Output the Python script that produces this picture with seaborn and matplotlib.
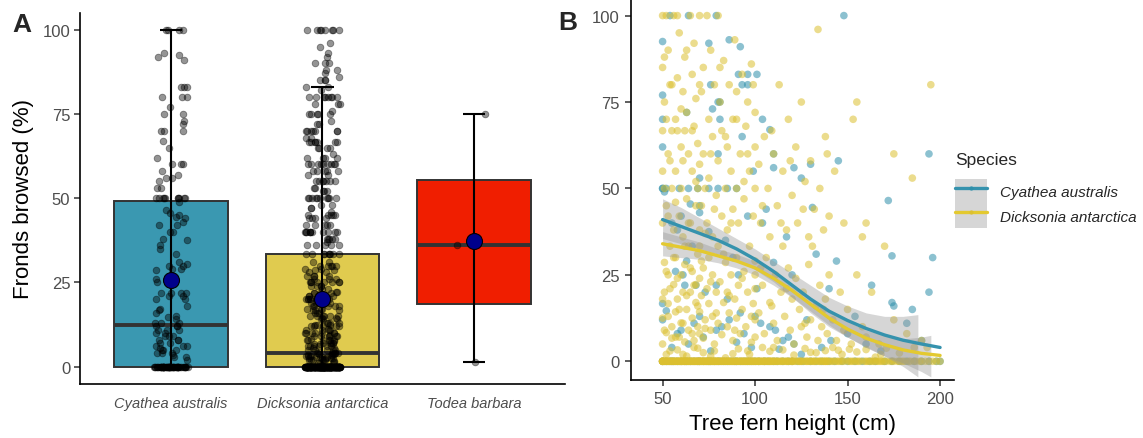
import numpy as np
import pandas as pd
import matplotlib
matplotlib.use("Agg")
import matplotlib.pyplot as plt
import seaborn as sns
from matplotlib import cbook
from matplotlib.lines import Line2D
from matplotlib.patches import Patch

# ---------------- data ----------------
species = ["Cyathea australis", "Dicksonia antarctica", "Todea barbara"]
box_colors = ["#3A98B1", "#E0CB4F", "#F01E00"]
teal = "#2E8FAA"
yellow = "#DCC030"

# heights (cm) of Cyathea ferns with 0 % fronds browsed
cyathea_zero_heights = [50, 52, 54, 56, 58, 60, 62, 63, 65, 67, 69, 70, 72, 74, 76, 78, 80, 81, 83, 85,
                        87, 89, 90, 92, 94, 96, 98, 100, 102, 105, 107, 110, 112, 115, 118, 120, 123, 126, 130, 133,
                        136, 140, 143, 147, 150, 154, 158, 162, 165, 170, 174, 178, 182, 186, 190, 194, 198, 200, 55, 75]
# (height cm, fronds browsed %) for Cyathea ferns with browsing > 0
cyathea_points = [
    (182, 11), (50, 12), (60, 9), (79, 9), (108, 10), (111, 9), (115, 6), (121, 5), (141, 6), (55, 4),
    (58, 8), (64, 5), (67, 11), (72, 7), (76, 3), (82, 10), (86, 12), (90, 5.5), (94, 8), (98, 4),
    (103, 11), (113, 3.5), (118, 7), (125, 2), (128, 12), (136, 4), (150, 8), (160, 5), (168, 3), (190, 6),
    (51, 49), (65, 45.5), (70, 43), (70, 45), (96, 42), (106, 44), (131, 44.5), (172, 46.5), (104, 40), (84, 35),
    (117, 36), (133, 31), (144, 29), (174, 30.5), (196, 30), (63, 29), (61, 25), (62, 22), (68, 22), (79, 22),
    (91, 25), (101, 21), (163, 22), (174, 17), (175, 16), (194, 20), (185, 15), (50, 16.7), (52, 14.6), (70, 13),
    (100, 13), (154, 13), (92, 14), (55, 40), (58, 38), (66, 33.3), (75, 37.5), (88, 30), (110, 28.6), (57, 26),
    (73, 20), (85, 18), (120, 25), (140, 21), (60, 42),
    (50, 50), (52, 50), (59, 50), (64, 50), (69, 50), (75, 50), (80, 50), (85, 50), (90, 50), (50, 50),
    (54, 100), (64, 100), (148, 100), (50, 92.5), (75, 92), (86, 93), (79, 100), (92, 91), (99, 55), (91, 83),
    (96, 83), (101, 83), (110, 56), (70, 53), (76, 80), (93, 80), (96, 80), (130, 57), (50, 77), (80, 75),
    (81, 75), (77, 73), (125, 53), (50, 70), (63, 72), (81, 70), (104, 70), (108, 67), (93, 65), (121, 56),
    (50, 62), (80, 60), (110, 60), (194, 60), (145, 58),
]

# heights (cm) of Dicksonia ferns with 0 % fronds browsed
dicksonia_zero_heights = [
    50, 50, 50, 50, 51, 51, 52, 52, 53, 53, 54, 54, 55, 55, 55, 56, 56, 57, 57, 58, 58, 59, 59, 60, 60,
    60, 61, 61, 62, 62, 63, 63, 64, 64, 65, 65, 65, 66, 66, 67, 67, 68, 68, 69, 69, 70, 70, 70, 71, 71,
    72, 72, 73, 73, 74, 74, 75, 75, 75, 76, 76, 77, 77, 78, 78, 79, 79, 50, 60, 70,
    80, 80, 81, 81, 82, 82, 83, 83, 84, 84, 85, 85, 86, 86, 87, 87, 88, 88, 89, 89, 90, 90, 91, 91, 92,
    92, 93, 93, 94, 94, 95, 95, 96, 96, 97, 97, 98, 98, 99, 99, 100, 100, 101, 101, 102, 102, 103, 103, 104,
    104, 105, 105, 106, 106, 107, 107, 108, 108, 109, 109,
    110, 110, 111, 112, 112, 113, 114, 115, 115, 116, 117, 118, 118, 119, 120, 120, 121, 122, 123, 124,
    125, 125, 126, 127, 128, 129, 130, 130, 131, 132, 133, 134, 135, 135, 136, 137, 138, 138, 139, 139,
    140, 141, 142, 143, 145, 146, 147, 148, 150, 151, 152, 154, 155, 156, 157, 159, 160, 161, 162, 163,
    165, 166, 167, 168, 169, 170, 171, 173, 174, 175, 177, 178, 180, 181, 183, 184, 186, 187, 189, 190,
    192, 194, 196, 198, 200,
    50, 51, 52, 53, 54, 56, 57, 58, 59, 61, 62, 63, 64, 66, 67, 68, 69, 71, 72, 73,
    74, 76, 77, 78, 79, 80, 82, 84, 86, 88, 90, 93, 95, 97, 99, 102, 105, 108, 111, 114,
    117, 120, 124, 128, 132, 137, 144, 153, 164, 179,
]
# (height cm, fronds browsed %) for Dicksonia ferns with browsing > 0
dicksonia_points = [
    (52, 2), (58, 3.3), (63, 1.5), (67, 4), (72, 2.5), (78, 3), (84, 1), (91, 3.6), (97, 2), (104, 4),
    (108, 2.9), (115, 3.3), (121, 1.8), (127, 3.7), (133, 2.5), (138, 3.1), (142, 4), (147, 2), (151, 3.5), (155, 2.7),
    (160, 3.4), (165, 1.2), (171, 3.8), (178, 2.4), (186, 4), (193, 4),
    (54, 3), (61, 2), (69, 3.8), (76, 1.5), (88, 2.2), (96, 3), (110, 4), (130, 2.6), (145, 3.2), (168, 2),
    (50, 5), (50, 12.5), (51, 20), (51, 28.6), (52, 8.3), (53, 16.7), (53, 25), (54, 33.3), (55, 6.7), (55, 10),
    (56, 22.2), (57, 14.3), (57, 30), (58, 18), (59, 7), (60, 25), (60, 11.1), (61, 20), (62, 5.6), (62, 28),
    (63, 15), (64, 9), (64, 33.3), (65, 20), (66, 12.5), (66, 26), (67, 6), (68, 17), (68, 22.2), (69, 10),
    (69, 31), (70, 14.3), (70, 24), (70, 8), (70, 33.3),
    (71, 19), (72, 6.7), (72, 27), (73, 12), (74, 21), (75, 16.7), (75, 30), (76, 9), (77, 25), (77, 13),
    (78, 5), (79, 20), (80, 33.3), (80, 11), (81, 23), (82, 7.7), (83, 17), (84, 28.6), (85, 10), (85, 20),
    (86, 14), (87, 25), (88, 6), (89, 18), (90, 30), (90, 12.5), (91, 22), (92, 8), (93, 15), (94, 26),
    (95, 10), (96, 20), (97, 33.3), (98, 5.5), (99, 16.7), (100, 25), (100, 12), (100, 21), (100, 7), (100, 29),
    (102, 14), (104, 22), (105, 8), (106, 30), (108, 17), (110, 11), (111, 25), (112, 6), (114, 20), (115, 33.3),
    (116, 13), (118, 27), (119, 9), (120, 18), (121, 5), (122, 24), (124, 15), (125, 10), (126, 20), (128, 7),
    (129, 28), (130, 12), (131, 33.3), (133, 16), (134, 6), (135, 22), (136, 10), (138, 18), (139, 8), (140, 25),
    (142, 12), (144, 6), (146, 20), (148, 9), (150, 15), (152, 5), (155, 25), (158, 10), (160, 7), (163, 20),
    (167, 5), (170, 33.3), (175, 12), (182, 8), (190, 6),
    (50, 18), (51, 9), (52, 26), (53, 13), (54, 21), (56, 30), (57, 7), (58, 24), (59, 15), (61, 11),
    (62, 33.3), (63, 19), (65, 27), (66, 8), (67, 22), (69, 16), (71, 29), (73, 9.5), (76, 23), (79, 14),
    (83, 31), (86, 19), (89, 9), (93, 24), (98, 13), (103, 27), (109, 16), (117, 21), (127, 11), (137, 15),
    (50, 100), (50, 66.7), (50, 40), (50, 85), (51, 50), (51, 75), (52, 100), (52, 45), (53, 90), (53, 60),
    (54, 58), (54, 80), (55, 66.7), (55, 50), (56, 100), (56, 38), (57, 70), (57, 55), (58, 82), (58, 66.7),
    (59, 42), (59, 95), (60, 50), (60, 62), (61, 78), (61, 36), (62, 66.7), (62, 88), (63, 47), (63, 72),
    (64, 60), (65, 100), (65, 40), (66, 83), (66, 55), (67, 68), (67, 92), (68, 45), (68, 76), (69, 50),
    (69, 63), (70, 100), (70, 38), (70, 80), (70, 57),
    (71, 45), (72, 85), (72, 60), (73, 50), (74, 100), (74, 40), (75, 70), (75, 53), (76, 90), (77, 36),
    (77, 65), (78, 80), (79, 48), (80, 100), (80, 58), (81, 75), (82, 42), (82, 66.7), (83, 87), (84, 50),
    (85, 62), (85, 38), (86, 80), (87, 55), (88, 44), (88, 70), (89, 93), (90, 50), (90, 78), (91, 40),
    (92, 60), (93, 83), (94, 47), (95, 68), (96, 60), (96, 75), (97, 55), (98, 86), (99, 42), (100, 62),
    (100, 50), (100, 72),
    (102, 57), (103, 40), (105, 65), (107, 50), (108, 36), (110, 60), (112, 45), (113, 80), (115, 55), (117, 38),
    (118, 70), (120, 48), (122, 62), (123, 40), (125, 75), (127, 52), (129, 36), (130, 58), (132, 44), (134, 96),
    (135, 50), (137, 38), (138, 65), (140, 42),
    (143, 55), (148, 40), (153, 70), (155, 75), (158, 36), (175, 60), (185, 53), (195, 80),
    (50, 55), (51, 88), (52, 70), (53, 42), (55, 80), (57, 46), (58, 100), (60, 73), (61, 58), (63, 90),
    (64, 40), (66, 66.7), (68, 52), (71, 78), (73, 37), (76, 60), (78, 44), (81, 85), (84, 65), (87, 40),
    (90, 70), (94, 52), (99, 80), (104, 45), (109, 66.7), (114, 40), (119, 58), (126, 44), (139, 60), (160, 40),
]

todea_browsed = [1.3, 36, 75]

# fitted browsing curves
fit_heights = [50, 60, 70, 80, 90, 100, 110, 120, 130, 140, 150, 160, 170, 180, 190, 200]
cyathea_fit = [41, 39, 37, 35, 32.5, 29.5, 26, 22, 18, 14.5, 11.8, 9.5, 7.6, 6.1, 5, 4]
dicksonia_fit = [34, 33, 32, 30.5, 29, 27, 24, 20.5, 16.5, 12.5, 9.3, 6.7, 4.8, 3.3, 2.3, 1.7]

cyathea_band_heights = [50, 60, 70, 80, 90, 100, 110, 120, 130, 140, 150, 160, 170, 180, 188]
cyathea_band_upper = [47, 44.5, 41.5, 38.5, 35.5, 32.5, 29, 25.5, 22, 18.5, 16, 14, 13, 13, 13.5]
cyathea_band_lower = [35.5, 34, 32.5, 31, 29.5, 26.5, 23, 18.5, 14, 10, 7, 4, 1.5, -1.5, -4.5]

dicksonia_band_heights = [50, 60, 70, 80, 90, 100, 110, 120, 130, 140, 150, 160, 170, 180, 190, 195]
dicksonia_band_upper = [37.5, 36, 34.5, 32.5, 31, 29, 26, 22.5, 18.5, 14.5, 11.5, 9, 7.5, 6.5, 7, 7.5]
dicksonia_band_lower = [30.5, 30, 29.5, 28.5, 27, 25, 22, 18.5, 14.5, 10.5, 7, 4.2, 1.5, -0.5, -3, -4.5]

# ---------------- tables ----------------
rows = []
for h in cyathea_zero_heights:
    rows.append((species[0], h, 0.0))
for h, y in cyathea_points:
    rows.append((species[0], h, y))
for h in dicksonia_zero_heights:
    rows.append((species[1], h, 0.0))
for h, y in dicksonia_points:
    rows.append((species[1], h, y))
df_b = pd.DataFrame(rows, columns=["species", "height", "browsed"])
df_a = pd.concat([df_b, pd.DataFrame({"species": species[2], "height": np.nan,
                                      "browsed": todea_browsed})], ignore_index=True)

# ---------------- style ----------------
sns.set_style("ticks")
plt.rcParams["font.family"] = ["Liberation Sans", "DejaVu Sans"]
np.random.seed(3)

tick_gray = "#4D4D4D"
fig = plt.figure(figsize=(11.43, 4.39), dpi=100)
axA = fig.add_axes([0.0700, 0.1241, 0.4243, 0.8444])
axB = fig.add_axes([0.5517, 0.1314, 0.2829, 0.8686])

# ---------------- panel A ----------------
sns.boxplot(data=df_a, x="species", y="browsed", order=species, hue="species", hue_order=species,
            palette=box_colors, saturation=1, legend=False, width=0.75, showfliers=False,
            showcaps=False, linecolor="#333333", linewidth=1.4,
            whiskerprops={"visible": False},
            medianprops={"linewidth": 2.8, "color": "#333333"}, ax=axA)
sns.stripplot(data=df_a, x="species", y="browsed", order=species, color="black", alpha=0.42,
              size=4.8, jitter=0.115, linewidth=0.6, edgecolor="black", ax=axA, zorder=3)
for i, sp in enumerate(species):
    vals = df_a.loc[df_a["species"] == sp, "browsed"].to_numpy()
    st = cbook.boxplot_stats(vals, whis=1.5)[0]
    axA.vlines(i, st["whislo"], st["whishi"], color="black", lw=1.5, zorder=4)
    axA.hlines([st["whislo"], st["whishi"]], i - 0.075, i + 0.075, color="black", lw=1.5, zorder=4)
sns.pointplot(data=df_a, x="species", y="browsed", order=species, estimator="mean", errorbar=None,
              color="#00008B", markers="o", linestyle="none", markersize=11.5,
              markeredgecolor="black", markeredgewidth=0.8, ax=axA, zorder=5)

axA.set_xlim(-0.6, 2.6)
axA.set_ylim(-5, 105)
axA.set_yticks([0, 25, 50, 75, 100])
axA.set_xlabel("")
axA.set_ylabel("Fronds browsed (%)", fontsize=16, color="black", labelpad=6)
axA.tick_params(axis="y", labelsize=12, labelcolor=tick_gray, color="#333333", length=4, width=1.1, pad=3)
axA.tick_params(axis="x", labelsize=10.5, labelcolor=tick_gray, length=0, pad=9)
for lab in axA.get_xticklabels():
    lab.set_fontstyle("italic")

# ---------------- panel B ----------------
sns.scatterplot(data=df_b, x="height", y="browsed", hue="species", hue_order=species[:2],
                palette=[teal, yellow], alpha=0.55, s=30, linewidth=0, legend=False, ax=axB)
axB.fill_between(cyathea_band_heights, cyathea_band_lower, cyathea_band_upper,
                 color="#999999", alpha=0.4, lw=0, zorder=3)
axB.fill_between(dicksonia_band_heights, dicksonia_band_lower, dicksonia_band_upper,
                 color="#999999", alpha=0.4, lw=0, zorder=3)
sns.lineplot(x=fit_heights, y=cyathea_fit, color="#3592AD", lw=2.4, ax=axB, zorder=4)
sns.lineplot(x=fit_heights, y=dicksonia_fit, color="#E3C930", lw=2.4, ax=axB, zorder=4)

axB.set_xlim(32.7, 207.5)
axB.set_ylim(-5.5, 104.8)
axB.set_xticks([50, 100, 150, 200])
axB.set_yticks([0, 25, 50, 75, 100])
axB.set_xlabel("Tree fern height (cm)", fontsize=16, color="black", labelpad=5)
axB.set_ylabel("")
axB.tick_params(axis="both", labelsize=12, labelcolor=tick_gray, color="#333333", length=4, width=1.1, pad=4)

for ax in (axA, axB):
    sns.despine(ax=ax)
    for s in ("left", "bottom"):
        ax.spines[s].set_linewidth(1.2)
        ax.spines[s].set_color("black")

# ---------------- panel letters & legend ----------------
fig.text(22 / 1143, 1 - 25 / 439, "A", fontsize=19, fontweight="bold", ha="center", va="center")
fig.text(568 / 1143, 1 - 23 / 439, "B", fontsize=19, fontweight="bold", ha="center", va="center")

fig.text(955 / 1143, 1 - 161 / 439, "Species", fontsize=12.5, ha="left", va="center")
handles = [
    (Patch(facecolor="#D6D6D6", edgecolor="none"),
     Line2D([], [], color="#3592AD", lw=2.4, marker="o", markersize=3, markerfacecolor=teal, markeredgewidth=0)),
    (Patch(facecolor="#D6D6D6", edgecolor="none"),
     Line2D([], [], color="#E3C930", lw=2.4, marker="o", markersize=3, markerfacecolor=yellow, markeredgewidth=0)),
]
fig.legend(handles=handles, labels=species[:2], loc="upper left",
           bbox_to_anchor=(955 / 1143, 1 - 180 / 439), frameon=False, borderpad=0, borderaxespad=0,
           handlelength=2.1, handleheight=2.1, labelspacing=0, handletextpad=0.85,
           prop={"style": "italic", "size": 11})

fig.savefig("out.png", dpi=100)
